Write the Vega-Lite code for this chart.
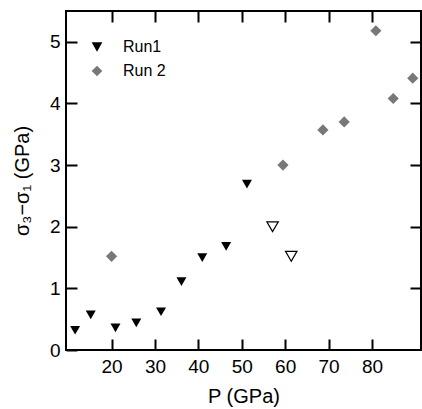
{
  "$schema": "https://vega.github.io/schema/vega-lite/v6.json",
  "width": 355,
  "height": 339,
  "autosize": {"type": "none"},
  "padding": {"left": 66, "top": 11, "right": 1, "bottom": 59},
  "background": "white",
  "config": {
    "view": {"stroke": "black", "strokeWidth": 2},
    "font": "Liberation Sans",
    "axis": {
      "domain": false,
      "grid": false,
      "tickColor": "black",
      "tickWidth": 2,
      "tickSize": -11,
      "labelFontSize": 19,
      "labelColor": "black",
      "titleFontSize": 20,
      "titleFontWeight": "normal",
      "titleColor": "black"
    }
  },
  "resolve": {"axis": {"x": "independent", "y": "independent"}},
  "data": {
    "values": [
      {"P": 11.6, "d": 0.32, "series": "Run1"},
      {"P": 15.2, "d": 0.57, "series": "Run1"},
      {"P": 20.9, "d": 0.36, "series": "Run1"},
      {"P": 25.7, "d": 0.44, "series": "Run1"},
      {"P": 31.4, "d": 0.62, "series": "Run1"},
      {"P": 36.1, "d": 1.11, "series": "Run1"},
      {"P": 40.9, "d": 1.5, "series": "Run1"},
      {"P": 46.4, "d": 1.68, "series": "Run1"},
      {"P": 51.2, "d": 2.69, "series": "Run1"},
      {"P": 57.1, "d": 2.0, "series": "open"},
      {"P": 61.4, "d": 1.52, "series": "open"},
      {"P": 20.0, "d": 1.52, "series": "Run 2"},
      {"P": 59.5, "d": 3.0, "series": "Run 2"},
      {"P": 68.7, "d": 3.57, "series": "Run 2"},
      {"P": 73.6, "d": 3.7, "series": "Run 2"},
      {"P": 80.9, "d": 5.18, "series": "Run 2"},
      {"P": 84.9, "d": 4.08, "series": "Run 2"},
      {"P": 89.4, "d": 4.41, "series": "Run 2"}
    ]
  },
  "layer": [
    {
      "transform": [{"filter": "datum.series !== 'open'"}],
      "mark": {"type": "point", "filled": true, "opacity": 1},
      "encoding": {
        "x": {
          "field": "P", "type": "quantitative",
          "scale": {"domain": [9.5, 91.3], "nice": false, "zero": false},
          "axis": {"orient": "bottom", "values": [20, 30, 40, 50, 60, 70, 80], "title": "P (GPa)", "labelPadding": 18, "titlePadding": 10}
        },
        "y": {
          "field": "d", "type": "quantitative",
          "scale": {"domain": [0, 5.5], "nice": false},
          "axis": {"orient": "left", "values": [0, 1, 2, 3, 4, 5], "title": "σ₃−σ₁ (GPa)", "labelPadding": 17, "titlePadding": 17}
        },
        "color": {
          "field": "series", "type": "nominal",
          "scale": {"domain": ["Run1", "Run 2"], "range": ["black", "#787878"]},
          "legend": {
            "title": null, "orient": "none", "legendX": 23, "legendY": 28,
            "labelFontSize": 16, "labelColor": "black", "labelOffset": 18,
            "rowPadding": 8, "symbolSize": 115, "padding": 0
          }
        },
        "shape": {
          "field": "series", "type": "nominal",
          "scale": {"domain": ["Run1", "Run 2"], "range": ["triangle-down", "diamond"]},
          "legend": {
            "title": null, "orient": "none", "legendX": 23, "legendY": 28,
            "labelFontSize": 16, "labelColor": "black", "labelOffset": 18,
            "rowPadding": 8, "symbolSize": 115, "padding": 0
          }
        },
        "size": {"condition": {"test": "datum.series === 'Run1'", "value": 100}, "value": 125}
      }
    },
    {
      "transform": [{"filter": "datum.series === 'open'"}],
      "mark": {"type": "point", "shape": "triangle-down", "fill": "white", "stroke": "black", "strokeWidth": 1.2, "size": 130, "opacity": 1},
      "encoding": {
        "x": {
          "field": "P", "type": "quantitative",
          "axis": {"orient": "top", "values": [20, 30, 40, 50, 60, 70, 80], "labels": false, "title": null}
        },
        "y": {
          "field": "d", "type": "quantitative",
          "axis": {"orient": "right", "values": [1, 2, 3, 4, 5], "labels": false, "title": null}
        }
      }
    }
  ]
}
